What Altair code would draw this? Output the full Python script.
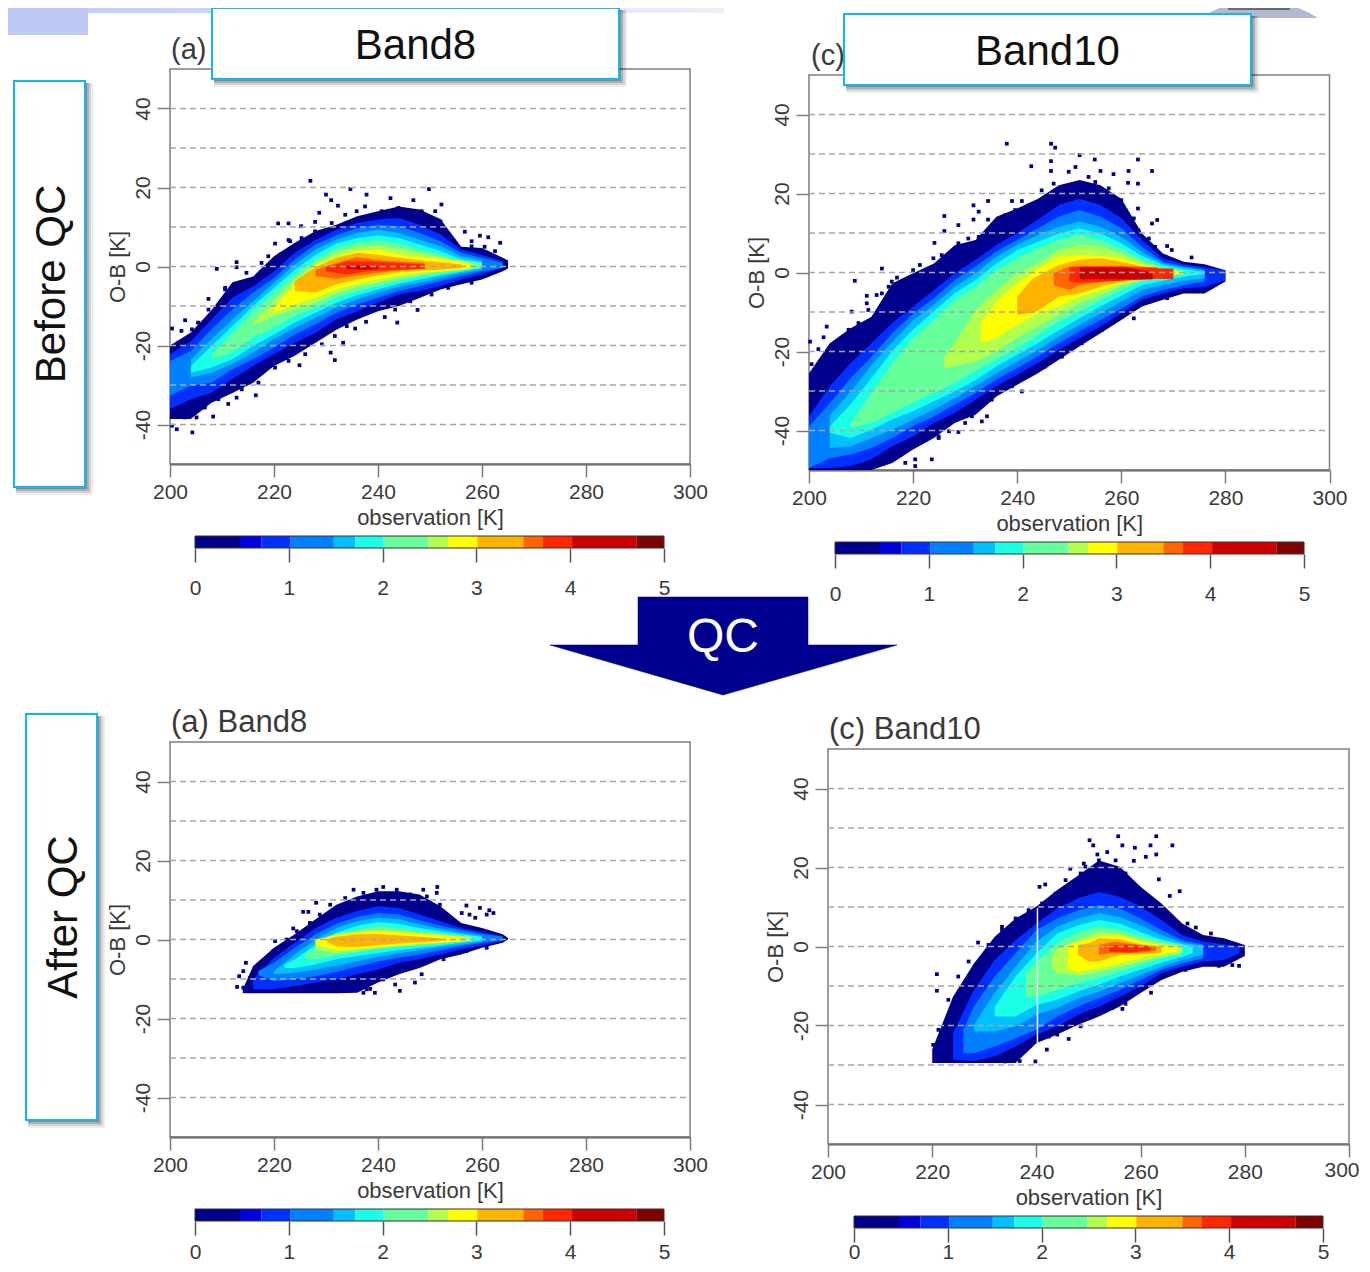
import altair as alt
import pandas as pd

FONT = "Liberation Sans"
INK = "#3a3a3a"
FRAME = "#7c7c7c"

# colour classes of the 0-5 colour bar
BAR_EDGES = [0, 0.48, 0.71, 1.02, 1.48, 1.71, 2.01, 2.49, 2.70, 3.01, 3.50, 3.71, 4.02, 4.71, 5]
PALETTE = ["#00008c", "#0000dc", "#0030ff", "#0080ff", "#00c0ff", "#1affe6", "#66ff99",
           "#b2ff4d", "#ffff00", "#ffb300", "#ff6600", "#ff2600", "#cc0000", "#7f0000"]
LEVELS = list(range(14))


def r(a, b):
    return list(range(a, b + 1, 4))


# Each band: colour class, observation [K], upper O-B edge, lower O-B edge
A_BANDS = [
    (0, r(200, 264) + [265],
     [-20, -16.7, -11, -4, -2.5, 2.6, 6, 9, 10.6, 12.7, 14, 15.2, 14.4, 12, 5, 4.7, 2.2, 1.5],
     [-38.6, -38.6, -34.5, -32, -29.4, -25.2, -22.6, -19.3, -16, -13.4, -11.3, -10, -8, -5.8, -4.5, -3.3, -1.2, -0.5]),
    (2, r(200, 264),
     [-22.2, -18.9, -13.4, -7.9, -5, -1.2, 3.5, 6.8, 9.3, 11, 11.9, 12.3, 10.6, 8.1, 4.3, 3, 1.3],
     [-36.1, -33.6, -31.9, -28.5, -25.2, -22.2, -19.3, -16.8, -13.4, -11.3, -9.2, -7.1, -6.2, -5, -3.3, -2, -0.3]),
    (3, r(200, 264),
     [-23.9, -21.4, -15.9, -10.9, -6.6, -2.9, 1.8, 5.6, 7.9, 9.7, 10.6, 10.2, 8.5, 6.4, 3.5, 2.2, 0.9],
     [-32.7, -30.2, -29.4, -26, -23.5, -20.5, -17.2, -14.6, -11.7, -9.6, -7.9, -6.2, -5, -3.7, -2.4, -1.2, -0.3]),
    (4, r(204, 260),
     [-23.5, -18.4, -13.4, -8.8, -4.1, 0.5, 4.3, 6.8, 8.5, 9.3, 8.5, 6.8, 5.1, 2.6, 1.6],
     [-28.1, -26.9, -24.7, -21.8, -18.4, -15.5, -13, -10.4, -8.3, -6.6, -5.1, -4.1, -2.9, -1.8, -0.8]),
    (5, r(204, 260),
     [-25.2, -20.1, -15.1, -10, -5.4, -0.8, 3, 5.8, 7.2, 7.9, 7.2, 5.6, 3.9, 1.9, 1.1],
     [-26.9, -25.6, -23.5, -20.1, -17.2, -14.2, -11.7, -9.2, -7.3, -5.8, -4.4, -3.3, -2.3, -1.3, -0.3]),
    (6, r(208, 260),
     [-22.2, -16.8, -11.3, -6.6, -2, 1.8, 4.7, 6.1, 6.6, 5.8, 4.3, 3, 1.4, 0.8],
     [-23.5, -21.8, -18, -15.5, -12.5, -10.4, -7.9, -6.2, -5, -3.7, -2.6, -1.8, -1, -0.4]),
    (7, r(216, 256),
     [-14.2, -8.8, -3.3, 0.8, 3.5, 5, 5.3, 4.5, 3.5, 2.4, 1.1],
     [-15, -12.5, -10.9, -9.2, -6.8, -5.1, -4.1, -2.9, -2, -1.3, -0.6]),
    (8, r(220, 256) + [258],
     [-10.4, -4.5, 0.3, 2.4, 3.9, 4.3, 3, 2.4, 1.9, 1.4, 0.8],
     [-11.7, -9.6, -7.9, -5.8, -4.4, -3.3, -2.3, -1.6, -1.2, -0.8, -0.4]),
    (9, r(224, 256),
     [-3.7, -0.1, 2.2, 3.5, 3, 2.2, 1.6, 1.1, 0.5],
     [-6.2, -6.6, -4.5, -3.3, -2.3, -1.4, -1, -0.8, -0.4]),
    (10, [228, 232, 236, 240, 244, 249],
     [-0.8, 0.9, 2.4, 1.6, 1.3, 0.9],
     [-2.4, -3.1, -2.3, -1.6, -1, -0.6]),
    (11, [230, 234, 238, 244, 249],
     [-0.2, 1.3, 1.3, 0.9, 0.5],
     [-1.2, -2, -1.2, -0.8, -0.6]),
    (12, [234, 237, 240],
     [0.1, 0.4, -0.1],
     [-0.6, -0.8, -0.6]),
]
A_SPECKS = [
    (227, 21.7), (234.7, 19.6), (237.8, 18.2), (249.8, 19.6), (230, 18.2), (242.4, 17.3), (246.8, 16.8),
    (231, 16.8), (232.3, 15.4), (252.2, 15.7), (228.7, 13.6), (212.8, 1.1), (212.8, -0.2), (209, -0.6),
    (207.4, -8.2), (202.9, -13.6), (200.4, -15.7), (202.2, -16.3), (220.2, 5.8), (222.8, 6.7), (256.7, 8.8),
    (259.6, 7.8), (261.2, 7.4), (263.5, 6), (258, 6.4), (260.5, 5), (241.3, -12.8), (243.7, -14.2),
    (247.6, -11), (237.7, -14), (235.6, -15.7), (233.3, -19.3), (230.9, -21.8), (231.7, -23.7), (224.9, -25),
    (216.5, -32.6), (212.8, -33.2), (211.2, -34.8), (201.3, -41.2), (204.3, -42), (200.4, -40.3),
    (205.1, -38.2), (208.3, -38), (202.9, -38.2), (210.6, -5.4), (214.7, -1.6), (220.8, 10.9), (222.8, 10.9),
    (227.9, 11.3), (225.2, 10.2),
    (213.5, -4.1), (210.6, -5.8), (209.6, -9.2), (207.4, -10.9), (205.4, -14.2), (204.2, -15.9), (201.6, -19.3),
    (217.6, 0.9), (218.9, 2.6), (221.2, 3), (223.1, 6.4), (225.3, 7.2), (227.9, 8.9), (231.1, 11), (233.7, 13.1),
    (235.9, 14), (237.5, 15.2), (240.7, 14), (243.9, 14.8), (248.4, 14), (251, 14), (252, 11.4), (253.5, 7.7),
    (255.4, 4.7), (258, 5.1), (262.5, 3.9), (206.7, -35.7), (209.3, -33.6), (213.8, -31.1), (217, -29.4),
    (220.2, -25.6), (222.8, -23.9), (226, -22.2), (229.2, -19.7), (231.7, -17.6), (234, -15.1), (238.1, -11.3),
    (243.3, -10.9), (246.2, -8.8), (250.3, -7.1), (253.5, -5.4), (258, -4.1),
]

C_BANDS = [
    (0, r(200, 280),
     [-25.5, -17.9, -14.1, -11.2, -2.7, -0.2, 2.3, 6.9, 8.2, 14.1, 16.2, 18.7, 22.1, 23.4, 22.1, 18.7, 9.9, 4.8, 2.7, 2.1, 0.6],
     [-50, -50, -50, -50, -48.2, -44.8, -41.9, -38.1, -36, -31.4, -28.4, -25.5, -22.1, -18.7, -15.4, -12, -8.6, -6.9, -5.3, -5.3, -2.3]),
    (2, r(200, 280),
     [-36.4, -28.8, -22.9, -17.9, -12.8, -8.6, -4.4, -0.2, 3.2, 7, 10, 13.4, 17.1, 18.7, 17.1, 13.8, 8.2, 3.6, 2.1, 1.3, 0.5],
     [-49.5, -49.5, -49, -47.3, -44, -41.5, -38.1, -35.6, -32.2, -28.8, -25.9, -22.9, -19.6, -16.6, -13.7, -10.3, -6.9, -5.3, -4, -3.7, -1.9]),
    (3, r(200, 276),
     [-39, -33.1, -26.8, -21.3, -15.4, -10.4, -6.5, -1.9, 1.5, 5.3, 8.2, 11.2, 14.1, 15.8, 14.1, 11.2, 6.5, 2.7, 1.6, 0.8],
     [-49.5, -47, -46.1, -44.4, -41.9, -38.9, -36.4, -33.4, -30.5, -27.1, -24.2, -21.2, -17.9, -14.9, -12, -9.1, -6.1, -4.4, -3.2, -2.3]),
    (4, r(204, 276),
     [-36.1, -30.2, -23.5, -17.6, -12.1, -8.2, -3.6, -0.2, 4, 7, 9.5, 11.6, 12.9, 11.6, 9, 5.2, 2.3, 1.3, 0.5],
     [-44.4, -44, -41.9, -39.8, -37.2, -34.7, -31.8, -28.8, -25.5, -22.5, -19.6, -16.2, -13.3, -10.3, -7.4, -4.4, -3.2, -2.1, -1.5]),
    (5, r(204, 276),
     [-38.9, -33.4, -26.7, -19.9, -14.4, -9.8, -5.2, -1.9, 2.3, 5.7, 7.8, 9.9, 11.2, 9.9, 7.4, 4.2, 1.9, 0.8, 0.2],
     [-40.6, -41.9, -39.8, -37.2, -35.1, -32.6, -30.1, -27.2, -23.8, -20.8, -17.9, -14.6, -11.6, -8.6, -5.9, -3.2, -2.1, -1.1, -0.4]),
    (6, r(208, 272),
     [-38.1, -30.5, -22.9, -16.6, -12, -6.9, -3.6, 0.6, 3.6, 6.1, 8.2, 9.5, 8.2, 6.1, 3.2, 1.3, 0.4],
     [-39.4, -38.1, -35.6, -33, -30.5, -28, -25, -22.1, -19.1, -15.8, -12.4, -9.9, -7, -4.4, -2.3, -1.2, -0.5]),
    (7, [226, 228] + r(232, 272),
     [-21.3, -17.9, -9.5, -4.4, -0.2, 2.3, 5.7, 6.9, 6.5, 4.8, 2.7, 1, 0.2],
     [-24.2, -23.8, -22.5, -20, -16.6, -13.7, -10.7, -7.8, -5.7, -3.4, -1.7, -0.9, -0.2]),
    (8, [233] + r(236, 272),
     [-12.8, -7.4, -2.7, 1, 4, 4.4, 4.2, 3.6, 1.9, 0.8, 0.2],
     [-17.9, -16.6, -13.3, -10.3, -8.6, -6.1, -4.4, -2.7, -1.5, -0.7, -0.3]),
    (9, [240, 243, 244, 248, 252, 256, 260, 264, 270],
     [-6.1, -1.5, -0.9, 1.9, 3.2, 3.6, 2.7, 1.5, 0.6],
     [-10.7, -10.2, -9.6, -6.1, -5.3, -3.6, -2.3, -1.1, -0.4]),
    (10, [247, 250, 252, 260, 267],
     [-0.2, 1.5, 1.6, 1.6, 1.3],
     [-3.2, -4.4, -3.2, -1.5, -0.9]),
    (11, [250, 252, 260, 267, 270],
     [1.3, 1.5, 1.5, 1.1, 1],
     [-2.3, -2.6, -2.1, -1.6, -1.7]),
    (12, [252, 261, 266],
     [1.3, 1.3, 0],
     [-1.7, -1.7, -1.7]),
]
C_SPECKS = [
    (238, 32.6), (246.5, 32.6), (247.3, 31.6), (252, 29.7), (246.5, 28.2), (254.9, 28.6), (263.2, 28.6),
    (242.7, 26.9), (246.5, 25.7), (261.4, 25.7), (265.9, 25.7), (258.5, 24.9), (256, 25.7), (263.2, 22.5),
    (261.3, 22.7), (234.4, 18.1), (231.6, 17), (232.6, 15.4), (240.9, 18.1), (239, 18.1), (226, 14.3),
    (231.6, 13.4), (234.4, 13.4), (228.7, 12), (226, 10.5), (224.1, 7.5), (208.8, -2.1), (214, 1),
    (211.1, -5.9), (208.2, -9.9), (203.4, -13.7), (202.8, -16.4), (201.8, -19.4), (200.5, -23.2),
    (200.2, -17.5), (266.9, 13.3), (265.9, 12.4), (263.2, 16.2), (268.8, 6.7), (273.5, 3.8), (269.7, 5.7),
    (262.4, -11.6), (240.9, -30.1), (234.2, -36.4), (233.2, -37.7), (228.7, -40.4), (226.9, -40.2),
    (224.9, -41.9), (223.6, -47.3), (220.4, -47.3), (218.5, -48.2), (220.4, -49),
    (215.9, -2.3), (216.9, -1.3), (215.3, -3.6), (214, -5.3), (213, -5.7), (211.1, -7.8), (211.4, -9.5),
    (209.5, -12.8), (207.6, -14.5), (208.2, -15.8), (205, -17.9), (206.3, -18.7), (204.7, -19.6), (203.1, -22.1),
    (202.4, -24.6), (201.5, -25.9), (200.5, -28), (204, -21.3), (220, 0.6), (221.3, 1.9), (223.9, 3.6),
    (225.5, 4.4), (228.7, 7.4), (230.6, 8.6), (232.6, 9), (236.4, 13.3), (237.7, 14.5), (239.6, 15.8),
    (242.2, 17), (244.7, 20.8), (247, 22.5), (249.9, 25.5), (251.2, 26.7), (253.7, 24.2), (255, 22.9),
    (257.6, 21.3), (260, 18.3), (260.8, 15.8), (262.4, 13.7), (263.3, 10.7), (265.3, 8.6), (266.5, 6.5),
    (268.5, 4), (214.6, -48.2), (215.9, -46.9), (218.5, -44.8), (221, -43.1), (224.9, -41.5), (230, -38.1),
    (231.3, -36.4), (235.1, -32.2), (239, -28.8), (245.4, -23.8), (248.6, -21.3), (252.4, -17.9),
    (256.3, -14.5), (258.2, -12.8), (265.3, -7.4), (268.8, -6.5),
]

A2_BANDS = [
    (0, [214] + r(216, 264) + [265],
     [-12.6, -6.7, -2.1, 1.3, 5.1, 8.8, 10.9, 12.2, 12.2, 11.4, 8.4, 4.2, 2.9, 1.3, 0.4],
     [-13.6, -13.6, -13.6, -13.6, -13.6, -13.6, -13.5, -10.9, -8.8, -7.2, -5, -3.8, -2.1, -0.8, 0]),
    (2, r(216, 264),
     [-10, -4.6, -0.8, 2.9, 5.5, 7.2, 8.4, 8, 6.3, 4.6, 2.9, 1.9, 0.8],
     [-12.6, -12.6, -11.8, -10.9, -10.1, -8.8, -7.6, -5.9, -5, -3.8, -2.5, -1.5, -0.4]),
    (3, [217] + r(220, 264),
     [-8, -5.9, -2.1, 1.3, 4, 5.7, 6.7, 6.3, 4.9, 3.5, 2.4, 1.4, 0.7],
     [-9, -10.5, -10.1, -9.3, -8.2, -6.9, -5.6, -4.6, -3.8, -2.7, -1.7, -0.8, -0.2]),
    (4, r(220, 260),
     [-8, -3.8, 0, 2.9, 4.6, 5.5, 5.1, 3.8, 2.7, 1.7, 1],
     [-8.8, -8.4, -7.6, -6.6, -5.5, -4.4, -3.5, -2.7, -1.9, -1.3, -0.5]),
    (5, [222] + r(224, 260),
     [-6.3, -5, -1.3, 1.7, 3.5, 4.4, 4, 2.9, 2.1, 1.3, 0.7],
     [-7.2, -7.2, -6.3, -5, -4.2, -3.4, -2.7, -2.1, -1.5, -0.8, -0.2]),
    (6, [226] + r(228, 256),
     [-3.8, -2.1, 0.4, 2.5, 3.4, 2.9, 2.1, 1.5, 0.8],
     [-5, -5, -4, -3.2, -2.4, -1.9, -1.5, -1, -0.5]),
    (7, r(228, 252) + [258],
     [-0.4, 1.5, 2.1, 2.5, 2.1, 1.7, 1.3, 0.7],
     [-2.5, -3.5, -2.7, -2.1, -1.7, -1.3, -0.8, -0.4]),
    (8, r(228, 256),
     [0, 1, 1.7, 2.3, 1.9, 1.5, 1.1, 0.7],
     [-1.3, -2.7, -2.4, -2.1, -1.5, -1.1, -0.8, -0.5]),
    (9, [230] + r(232, 252),
     [0, 0.7, 1.3, 1.4, 1, 0.7, 0.3],
     [-0.4, -1.7, -1.9, -1.4, -1, -0.7, -0.4]),
]
A2_SPECKS = [
    (235.3, 12.6), (241, 13.3), (251.4, 13.3), (251.3, 11.8), (248.7, 12.6), (257, 8.6), (259.6, 8),
    (261.4, 7.4), (257.6, 6.3), (260.9, 6.3), (262.2, 6.7), (228.1, 9.3), (225.6, 7), (226.6, 7),
    (223.7, 2.8), (220.2, -0.4), (214.6, -5.9), (214.1, -8), (213.3, -9.3), (212.9, -12), (248.4, -8.8),
    (247.1, -10.9), (244.2, -13), (239.4, -13.5), (238.5, -12.5), (243.3, -11.4), (256.1, 6.7), (258.7, 5.5),
    (233.7, 10.5), (237.2, 11.8), (239.7, 12.6), (243.6, 12.6), (246.2, 11.4), (249.4, 10.9), (251.9, 8.8),
    (253.2, 6.3), (254.5, 4.2), (230.8, 8.8), (228.8, 6.3), (226.9, 4.2), (224.4, 2.1), (222.4, 0), (219.9, -2.9),
    (217.9, -5.5), (216.3, -7.2), (215.4, -9.7), (214.1, -12.2), (237.8, -12.6), (241, -10.1), (244.9, -7.2),
    (248.1, -5.9), (252.6, -5), (257, -2.9), (260.9, -2.1), (237.2, -13.5),
]

C2_BANDS = [
    (0, r(220, 280),
     [-26.1, -12.7, -4.3, 2.5, 7.1, 10.1, 14.3, 18, 21.8, 20.2, 15.1, 10.9, 5.8, 2.9, 2.1, 0.4],
     [-29.5, -29.5, -29.5, -29.5, -29.5, -24.5, -22.3, -19.8, -17.7, -15.2, -11.8, -8.5, -6.4, -5.1, -5.1, -2.4]),
    (2, r(224, 276) + [279],
     [-21.9, -11, -3.4, 1.6, 5.8, 9.6, 12.2, 13.8, 12.6, 10.1, 6.7, 2.9, 1.2, 0.6, 0],
     [-28.7, -29, -27.8, -25.3, -22.3, -20.2, -17.3, -15.2, -12.7, -10.1, -6.8, -5.1, -3.8, -3.4, -1.7]),
    (3, [226] + r(228, 272),
     [-21, -15.2, -7.6, -1.7, 4.2, 7.1, 9.2, 10.5, 9.6, 7.1, 4.2, 1.6, 0.5],
     [-27, -27, -25.3, -23.2, -21.1, -17.7, -15.2, -13.1, -11, -8.5, -5.9, -4.3, -3]),
    (4, r(228, 272),
     [-19.8, -11.8, -5.1, 1.2, 5, 7.1, 8.4, 7.5, 5.4, 2.9, 1, 0.2],
     [-21.5, -21.5, -20.2, -17.3, -15.6, -13.1, -11.4, -9.3, -7.2, -5.1, -3.4, -2.1]),
    (5, r(232, 268) + [270],
     [-15.2, -7.6, -1.7, 3.3, 5.4, 6.7, 5.8, 3.7, 1.8, 0.6, 0.1],
     [-17.7, -17.7, -14.8, -13.5, -11.4, -9.7, -7.6, -5.9, -4.1, -2.6, -1.7]),
    (6, [238] + r(240, 268),
     [-6.8, -3.8, 0.8, 3.7, 5, 4.3, 2.7, 1.2, 0.4],
     [-12.7, -12.7, -11, -9.3, -8, -6.4, -4.7, -3, -1.9]),
    (7, [243] + r(244, 268),
     [-2.6, -0.5, 1.6, 3.7, 3.2, 1.8, 0.8, 0.1],
     [-5.5, -6.8, -7.4, -6.4, -5.1, -3.8, -2.6, -1.6]),
    (8, [246] + r(248, 264) + [267],
     [0.4, 1.2, 2.5, 2.9, 1.2, 0.4, 0],
     [-5.5, -6.4, -5.5, -4.3, -3, -1.9, -1.3]),
    (9, [248, 250, 252, 256, 260, 264],
     [0.4, 0.8, 2.1, 1.8, 0.6, 0],
     [-2.1, -3.8, -3.8, -2.1, -1.9, -1.6]),
    (10, [252, 255, 260, 263],
     [0.4, 1.2, 0.4, 0],
     [-2.1, -1.6, -1.6, -1]),
    (11, [254, 258, 262],
     [0.4, 0.4, 0],
     [-1.3, -1.6, -0.9]),
]
C2_SPECKS = [
    (255.7, 27.9), (263, 27.9), (250.2, 26.9), (250.9, 25.6), (261.9, 25.6), (266.1, 25.6), (258.9, 25),
    (256.5, 25.6), (251.7, 23.3), (263, 23.3), (261, 22.7), (258.7, 21.7), (249.1, 21), (246.5, 19.7),
    (263.5, 17), (267.5, 14), (265.6, 12.8), (241.7, 15.7), (240.6, 15.1), (236, 7.1), (233.4, 5),
    (228.8, 1), (220.9, -7), (220.9, -11.2), (270.6, 4.8), (269, 5.8), (273.5, 3.3), (278.9, -4.9),
    (262, -11.7), (257.1, -14.5), (256.5, -15.8), (248.5, -20.2), (246.2, -23.4), (244, -22.3),
    (242, -26.1), (239.8, -29.1), (236.8, -29), (220.2, -24.9),
    (253.6, 23.9), (255.2, 21.8), (252, 21.8), (249.4, 20.2), (248.5, 18.5), (245.6, 16.8), (243.7, 13.4),
    (241.1, 10.9), (238.5, 9.2), (237.2, 6.7), (233.4, 4.2), (230.8, 0.4), (227, -3.8), (225, -7.6), (223.1, -13.5),
    (221.2, -21.1), (220.6, -26.6), (257.1, 18.5), (259, 14.3), (262.2, 11.7), (264.8, 8.4), (267.4, 5.4),
    (269.9, 3.3), (242.4, -22.8), (244.3, -21.1), (248.1, -19), (251.3, -16.9), (254.5, -15.6), (257.7, -12.7),
    (262.2, -8.5), (268.6, -5.9), (275, -4.9), (277.6, -4.7), (234, -29.1), (237.9, -26.1),
]
C2_GAP = [(240.2, 9.7, -24.5)]

GRID_LEVELS = [-40, -30, -20, -10, 0, 10, 20, 30, 40]
Y_TICKS = [-40, -20, 0, 20, 40]
X_TICKS = [200, 220, 240, 260, 280, 300]
BAR_TICKS = [0, 1, 2, 3, 4, 5]

WIDTH, HEIGHT = 1354, 1256
color_enc = alt.Color("level:N", scale=alt.Scale(domain=LEVELS, range=PALETTE), legend=None)
ONE = pd.DataFrame({"k": [0]})


def px(v):
    return v - 8


def band_frame(bands):
    rows = []
    for level, xs, tops, bots in bands:
        for x, t, b in zip(xs, tops, bots):
            rows.append({"level": level, "x": x, "top": t, "bot": b})
    return pd.DataFrame(rows)


def panel(bands, specks, left, right, top, bottom, extra=None, blank_last=False):
    xs = alt.Scale(domain=[200, 300], range=[px(left), px(right)], nice=False, zero=False)
    ys = alt.Scale(domain=[-50, 50], range=[px(bottom), px(top)], nice=False, zero=False)
    x_label = "datum.value == 300 ? '' : datum.label" if blank_last else "datum.label"
    x_axis = alt.Axis(orient="bottom", offset=px(bottom) - HEIGHT, values=X_TICKS, title="observation [K]",
                      format="d", grid=False, domain=True, domainColor="#555555", domainWidth=2,
                      tickColor=FRAME, tickWidth=1.5, tickSize=13, labelFont=FONT, labelFontSize=21,
                      labelColor=INK, labelPadding=4, labelOverlap=False, labelFlush=False, labelExpr=x_label,
                      titleFont=FONT, titleFontSize=22, titleFontWeight="normal", titleColor=INK, titlePadding=5)
    y_axis = alt.Axis(orient="left", offset=-px(left), values=Y_TICKS, title="O-B [K]", grid=False,
                      domain=False, tickColor=FRAME, tickWidth=1.5, tickSize=13, labelFont=FONT,
                      labelFontSize=21, labelColor=INK, labelAngle=270, labelAlign="center",
                      labelBaseline="bottom", labelPadding=4, labelOverlap=False, labelFlush=False,
                      labelExpr="'' + datum.value", titleFont=FONT,
                      titleFontSize=22, titleFontWeight="normal", titleColor=INK, titlePadding=3)
    frame = alt.Chart(pd.DataFrame({"x0": [200], "x1": [300], "y0": [-50], "y1": [50]})).mark_rect(
        fillOpacity=0, stroke=FRAME, strokeWidth=1.5
    ).encode(
        x=alt.X("x0:Q", scale=xs, axis=x_axis), x2="x1:Q",
        y=alt.Y("y0:Q", scale=ys, axis=y_axis), y2="y1:Q",
    )
    areas = alt.Chart(band_frame(bands)).mark_area(opacity=1).encode(
        x=alt.X("x:Q", scale=xs, axis=None),
        y=alt.Y("top:Q", scale=ys, axis=None), y2="bot:Q",
        color=color_enc,
    )
    spk = alt.Chart(pd.DataFrame(specks, columns=["x", "y"])).mark_square(
        size=14, color=PALETTE[0], opacity=1
    ).encode(x=alt.X("x:Q", scale=xs, axis=None), y=alt.Y("y:Q", scale=ys, axis=None))
    grid = alt.Chart(pd.DataFrame({"y": GRID_LEVELS, "x0": 200, "x1": 299.6})).mark_rule(
        color="#a6a6a6", strokeWidth=1.5, strokeDash=[6, 4]
    ).encode(x=alt.X("x0:Q", scale=xs, axis=None), x2="x1:Q", y=alt.Y("y:Q", scale=ys, axis=None))
    parts = [frame, spk, areas]
    if extra:
        gap = alt.Chart(pd.DataFrame(extra, columns=["x", "y0", "y1"])).mark_rule(
            color="white", strokeWidth=1.5
        ).encode(x=alt.X("x:Q", scale=xs, axis=None), y=alt.Y("y0:Q", scale=ys, axis=None), y2="y1:Q")
        parts.append(gap)
    parts.append(grid)
    return parts


def colorbar(left, right, top, bottom, pad):
    xs = alt.Scale(domain=[0, 5], range=[px(left), px(right)], nice=False, zero=False)
    axis = alt.Axis(orient="bottom", offset=px(bottom) - HEIGHT, values=BAR_TICKS, title=None, format="d",
                    grid=False, domain=False, tickColor="#555555", tickWidth=1.5, tickSize=14, labelFont=FONT,
                    labelFontSize=21, labelColor=INK, labelPadding=pad, labelOverlap=False, labelFlush=False)
    cells = pd.DataFrame({"x0": BAR_EDGES[:-1], "x1": BAR_EDGES[1:], "level": LEVELS})
    return alt.Chart(cells).mark_rect(strokeWidth=0).encode(
        x=alt.X("x0:Q", scale=xs, axis=axis), x2="x1:Q",
        y=alt.value(px(top)), y2=alt.value(px(bottom)),
        color=color_enc,
    )


def box(x0, y0, x1, y1, **kw):
    return alt.Chart(ONE).mark_rect(**kw).encode(
        x=alt.value(px(x0)), x2=alt.value(px(x1)), y=alt.value(px(y0)), y2=alt.value(px(y1))
    )


def label(text, x, y, size, color=INK, angle=0, align="center"):
    return alt.Chart(ONE).mark_text(
        text=text, font=FONT, fontSize=size, color=color, angle=angle, align=align, baseline="middle"
    ).encode(x=alt.value(px(x)), y=alt.value(px(y)))


def callout(text, x0, y0, x1, y1, angle=0):
    layers = []
    for grow, op in [(8, 0.07), (6, 0.11), (4, 0.17), (2, 0.22)]:
        layers.append(box(x0 + 2, y0 + 2, x1 + grow, y1 + grow, color="#000000", opacity=op))
    layers.append(box(x0, y0, x1, y1, fill="#ffffff", stroke="#10b8ee", strokeWidth=2))
    dx, dy = (2, 0) if angle else (0, 2)
    layers.append(label(text, (x0 + x1) / 2 + dx, (y0 + y1) / 2 + dy, 42, "#111111", angle))
    return layers


ARROW_PATH = "M-85.5,-49 L84.5,-49 L84.5,-1 L173.5,-1 L-0.5,49 L-173.5,-1 L-85.5,-1 Z"
LENS_PATH = "M-59,6 Q-30,-12 0,-12 Q30,-12 59,6 Z"

chart_layers = [
    box(8, 8, 88, 35, fill="#bec9f5", strokeWidth=0),
    box(88, 8, 724, 13, strokeWidth=0, fill=alt.Gradient(
        gradient="linear", x1=0, x2=1, y1=0, y2=0,
        stops=[alt.GradientStop(offset=0, color="#c3cdf6"), alt.GradientStop(offset=1, color="#eceefc")])),
    alt.Chart(ONE).mark_point(shape=LENS_PATH, size=4, filled=True, fill="#b4bacd", opacity=1).encode(
        x=alt.value(px(1259)), y=alt.value(px(12))),
    box(1228, 8, 1290, 10, fill="#6a6a70", strokeWidth=0),
]
chart_layers += panel(A_BANDS, A_SPECKS, 170, 690, 69, 464)
chart_layers += panel(C_BANDS, C_SPECKS, 809, 1329.5, 75, 470)
chart_layers += panel(A2_BANDS, A2_SPECKS, 170, 690, 742, 1137)
chart_layers += panel(C2_BANDS, C2_SPECKS, 828, 1349, 749, 1144, C2_GAP, blank_last=True)
chart_layers += [
    label("300", 1342, 1171, 21),
    colorbar(195, 664, 536, 548, 15),
    colorbar(835, 1304, 542, 554, 15),
    colorbar(195, 664, 1209, 1221, 6),
    colorbar(854, 1323, 1216, 1228, -1),
    box(195, 536, 664, 548, fillOpacity=0, stroke="#333333", strokeWidth=1),
    box(835, 542, 1304, 554, fillOpacity=0, stroke="#333333", strokeWidth=1),
    box(195, 1209, 664, 1221, fillOpacity=0, stroke="#333333", strokeWidth=1),
    box(854, 1216, 1323, 1228, fillOpacity=0, stroke="#333333", strokeWidth=1),
    label("(a)", 171, 50, 29, align="left"),
    label("(c)", 811, 56, 29, align="left"),
    label("(a) Band8", 171, 723, 31, align="left"),
    label("(c) Band10", 829, 730, 31, align="left"),
    box(820, 700, 990, 717, fill="#ffffff", strokeWidth=0),
]
chart_layers += callout("Band8", 212, 8, 619, 79)
chart_layers += callout("Band10", 844, 14, 1251, 85)
chart_layers += callout("Before QC", 14, 81, 85, 487, 270)
chart_layers += callout("After QC", 26, 714, 97, 1120, 270)
chart_layers += [
    alt.Chart(ONE).mark_point(
        shape=ARROW_PATH, size=4, filled=True, fill="#000090", stroke="#00004a", strokeWidth=0.5, opacity=1
    ).encode(x=alt.value(px(723.5)), y=alt.value(px(646))),
    label("QC", 723, 638, 48, "#ffffff"),
]

chart = alt.layer(*chart_layers).resolve_scale(x="independent", y="independent").resolve_axis(
    x="independent", y="independent"
).properties(
    width=WIDTH, height=HEIGHT, padding=0, autosize=alt.AutoSizeParams(type="none"), background="white"
).configure_view(stroke=None)

chart.save("out.html", embed_options={"renderer": "svg", "actions": False})
